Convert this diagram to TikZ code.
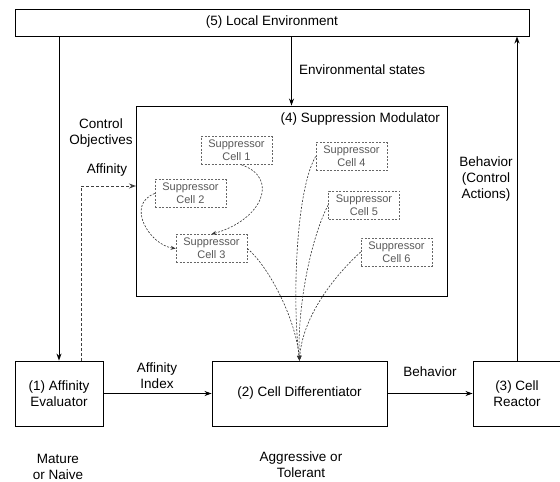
\documentclass[tikz,border=0pt]{standalone}
\usepackage{fontspec}
\setmainfont{Liberation Sans}
\usetikzlibrary{arrows.meta}
\begin{document}
\begin{tikzpicture}[x=1pt,y=-1pt,
  every node/.style={font=\fontsize{13.5}{16}\selectfont, inner sep=0pt},
  block/.style={draw=black, line width=0.9pt, rectangle},
  cellbox/.style={draw=black!60, dash pattern=on 2pt off 1.5pt, line width=0.7pt,
     minimum width=71pt, minimum height=28pt, align=center,
     text=black!65, font=\fontsize{11}{13}\selectfont},
  lbl/.style={align=center},
  arr/.style={-{Stealth[length=7pt,width=5pt]}, line width=0.9pt},
  darr/.style={-{Stealth[length=7pt,width=5pt]}, line width=0.9pt, draw=black!75, dash pattern=on 3pt off 2pt},
  carr/.style={-{Stealth[length=5pt,width=4pt]}, line width=0.6pt, draw=black!80, dash pattern=on 2pt off 1.5pt}
]
\useasboundingbox (0,0) rectangle (560,482);
\fill[white] (0,0) rectangle (560,482);

% main blocks
\node[block, minimum width=514pt, minimum height=27pt] (env) at (272,22.5) {(5) Local Environment};
\node[block, minimum width=311pt, minimum height=190pt] (mod) at (291.5,201) {};
\node[block, minimum width=88pt, minimum height=65pt, align=center] (aff) at (59,393.5) {(1) Affinity\\Evaluator};
\node[block, minimum width=175pt, minimum height=65pt] (diff) at (299.5,393.5) {(2) Cell Differentiator};
\node[block, minimum width=88pt, minimum height=65pt, align=center] (react) at (517,393.5) {(3) Cell\\Reactor};

% suppressor cells
\node[cellbox] (c1) at (236.5,150.5) {Suppressor\\Cell 1};
\node[cellbox] (c2) at (190.5,193.5) {Suppressor\\Cell 2};
\node[cellbox] (c3) at (211.5,248.5) {Suppressor\\Cell 3};
\node[cellbox] (c4) at (351.5,156.5) {Suppressor\\Cell 4};
\node[cellbox] (c5) at (364,205) {Suppressor\\Cell 5};
\node[cellbox] (c6) at (396.5,252) {Suppressor\\Cell 6};

% labels
\node[anchor=east] (modlbl) at (440,119) {(4) Suppression Modulator};
\node[anchor=west] (envlbl) at (299,70) {Environmental states};
\node[lbl] (ctrl) at (101,133.5) {Control\\Objectives};
\node[lbl] (afflbl) at (107,170) {Affinity};
\node[lbl] (behctrl) at (486,179) {Behavior\\(Control\\Actions)};
\node[lbl] (affidx) at (157,375.5) {Affinity\\Index};
\node[lbl] (behlbl) at (430,372) {Behavior};
\node[lbl] (mature) at (58,466.5) {Mature\\or Naive};
\node[lbl] (aggr) at (301,465) {Aggressive or\\Tolerant};

% connectors
\draw[arr] (aff.north |- env.south) -- (aff.north);
\draw[arr] (mod.north |- env.south) -- (mod.north);
\draw[arr] (react.north) -- (react.north |- env.south);
\draw[arr] (aff.east) -- (diff.west);
\draw[arr] (diff.east) -- (react.west);
\coordinate (affin) at (136,186);
\draw[darr] ([xshift=22pt]aff.north) |- (affin);

% cell interactions
\draw[carr] ([xshift=5pt]c1.south) .. controls (280,178) and (262,220) .. (c3.north);
\draw[carr] (c2.west) .. controls (125,205) and (150,245) .. (c3.west);
\draw[carr] (c3.east) .. controls (270,268) and (296,320) .. (diff.north);
\draw[carr] (c4.west) .. controls (296,190) and (292,300) .. (diff.north);
\draw[carr] (c5.west) .. controls (310,240) and (297,310) .. (diff.north);
\draw[carr] (c6.west) .. controls (330,280) and (302,320) .. (diff.north);
\end{tikzpicture}
\end{document}
